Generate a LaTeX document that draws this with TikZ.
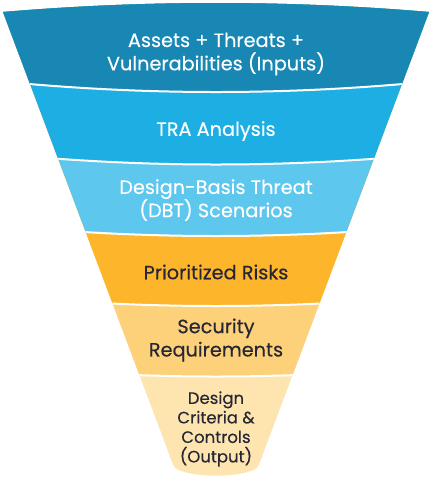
\documentclass[tikz,border=0pt]{standalone}
\usepackage{fontspec}
\setmainfont{Poppins}[FakeBold=0.25]
\definecolor{cA}{HTML}{1887B4}
\definecolor{cB}{HTML}{1DAFE4}
\definecolor{cC}{HTML}{5DC7EE}
\definecolor{cD}{HTML}{FDB52B}
\definecolor{cE}{HTML}{FDD179}
\definecolor{cF}{HTML}{FEE5B0}
\definecolor{txtdark}{HTML}{262634}
\newcommand\sepc[1]{(0,{#1-10.7}) .. controls (144,{#1+3.57}) and (288,{#1+3.57}) .. (432,{#1-10.7})}
\newcommand\bandfill[2]{\fill[#1] \sepc{#2} -- (432,-20) -- (0,-20) -- cycle;}
\tikzset{
  lbl/.style={align=center, font=\fontsize{19.3}{23.3}\selectfont, inner sep=0pt},
  lblsmall/.style={align=center, font=\fontsize{16.5}{19.5}\selectfont, inner sep=0pt},
  sepline/.style={draw=white, line width=2pt}
}
\begin{document}
\begin{tikzpicture}[x=1pt,y=-1pt]
\useasboundingbox (0,0) rectangle (432,480);
\begin{scope}
\clip (3,12) .. controls (145,0) and (287,0) .. (429,12)
  -- (259.8,462.3) .. controls (258,467) .. (253.5,470)
  .. controls (236,477.5) and (196,477.5) .. (178.5,470)
  .. controls (174,467) .. (172.2,462.3) -- cycle;
\fill[cF] (0,-20) rectangle (432,500);
\bandfill{cE}{376.5}
\bandfill{cD}{306}
\bandfill{cC}{236}
\bandfill{cB}{164.5}
\bandfill{cA}{92}
\foreach \yc in {92,164.5,236,306,376.5}{
  \draw[sepline] \sepc{\yc};
}
\end{scope}
\node[lbl, text=white] (n1) at (216,54) {Assets + Threats +\\Vulnerabilities (Inputs)};
\node[lbl, text=white] (n2) at (216,131) {TRA Analysis};
\node[lbl, text=white] (n3) at (216,200) {Design-Basis Threat\\(DBT) Scenarios};
\node[lbl, text=txtdark] (n4) at (216,272) {Prioritized Risks};
\node[lbl, text=txtdark] (n5) at (216,340) {Security\\Requirements};
\node[lblsmall, text=txtdark] (n6) at (216,429) {Design\\Criteria \&\\Controls\\(Output)};
\end{tikzpicture}
\end{document}
